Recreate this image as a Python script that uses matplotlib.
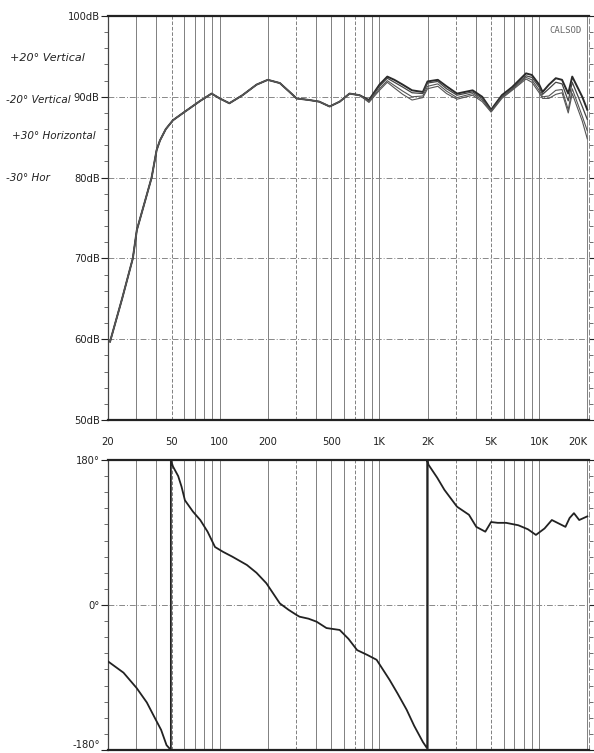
import numpy as np
import matplotlib
matplotlib.use("Agg")
import matplotlib.pyplot as plt

# ---------------- data ----------------
# common low-frequency part of the magnitude response
freq_low = [20.6, 24.5, 28.6, 30.3, 34, 37.5, 40.3, 42.3, 46, 51, 59, 75.6, 89, 100, 115, 139,
            170, 200, 238, 274, 303, 364, 420, 488, 564, 650, 750]
db_low = [59.7, 65.0, 70.0, 73.5, 77.0, 80.0, 83.4, 84.6, 86.0, 87.1, 88.0, 89.5, 90.4, 89.8,
          89.2, 90.2, 91.5, 92.1, 91.7, 90.6, 89.8, 89.6, 89.4, 88.8, 89.4, 90.4, 90.2]

# high-frequency part: four off-axis curves
freq_high = [860, 1000, 1120, 1240, 1400, 1600, 1870, 2000, 2320, 2630, 3060, 3830, 4400, 5000,
             5840, 6770, 8270, 9000, 10000, 10500, 11500, 12700, 13900, 15200, 16100, 18600, 20000]
db_vert_p20 = [89.6, 91.5, 92.5, 92.1, 91.5, 90.8, 90.6, 91.9, 92.1, 91.3, 90.4, 90.8, 90.0, 88.4,
               90.2, 91.2, 92.9, 92.7, 91.5, 90.6, 91.5, 92.3, 92.1, 90.4, 92.5, 90.0, 88.4]
db_vert_m20 = [89.5, 91.3, 92.3, 91.8, 91.2, 90.5, 90.4, 91.7, 91.9, 91.0, 90.2, 90.6, 89.8, 88.3,
               90.0, 91.0, 92.6, 92.4, 91.2, 90.3, 91.0, 91.8, 91.6, 89.5, 91.8, 88.8, 87.2]
db_hor_p30 = [89.4, 91.0, 92.0, 91.4, 90.7, 90.0, 90.1, 91.3, 91.6, 90.7, 89.9, 90.4, 89.6, 88.2,
              89.9, 90.9, 92.4, 92.1, 90.8, 90.0, 90.1, 90.8, 90.9, 88.4, 91.0, 87.6, 85.8]
db_hor_m30 = [89.3, 90.8, 91.8, 91.1, 90.3, 89.6, 89.9, 91.0, 91.3, 90.4, 89.7, 90.2, 89.4, 88.1,
              89.8, 90.8, 92.2, 91.8, 90.5, 89.8, 89.8, 90.3, 90.5, 88.0, 90.4, 87.0, 84.8]
series_labels = ["+20° Vertical", "-20° Vertical", "+30° Horizontal", "-30° Hor"]

# phase response (degrees)
freq_phase = [20, 25, 30.2, 35, 39, 43, 46.5, 49.5, 49.5, 51, 55, 57.7, 60.6, 68, 75.6, 84, 93.5,
              105, 120, 148, 170, 196, 238, 270, 303, 316, 360, 404, 466, 564, 640, 725, 840, 960,
              1158, 1300, 1480, 1650, 1870, 1990, 1990, 2030, 2300, 2550, 3060, 3634, 4040, 4600,
              5000, 5500, 6200, 7400, 8500, 9540, 10800, 12000, 14600, 15500, 16500, 17800, 20000]
phase_deg = [-70, -84, -103, -121, -139, -155, -174, -180, 180, 172, 160, 147, 130, 116, 105.5, 91,
             72, 66, 60, 49.7, 40, 27, 2, -6, -12.4, -14.5, -17, -20.7, -28.6, -31, -42, -56, -62,
             -68, -93, -110, -130, -150, -170, -178, 180, 174, 158, 143, 122, 112, 97, 91, 103, 102,
             102, 99, 94, 87, 95, 105.5, 97, 108, 114, 105.5, 110]

xtick_vals = [20, 50, 100, 200, 500, 1000, 2000, 5000, 10000, 20000]
xtick_labels = ["20", "50", "100", "200", "500", "1K", "2K", "5K", "10K", "20K"]
db_ticks = [50, 60, 70, 80, 90, 100]
db_tick_labels = ["50dB", "60dB", "70dB", "80dB", "90dB", "100dB"]
ph_ticks = [-180, 0, 180]
ph_tick_labels = ["-180°", "0°", "180°"]

# ---------------- figure ----------------
W, H = 594, 753
fig = plt.figure(figsize=(W / 100, H / 100), dpi=100)
fig.patch.set_facecolor("white")

def px_rect(left, top, right, bottom):
    return [left / W, 1 - bottom / H, (right - left) / W, (bottom - top) / H]

ax1 = fig.add_axes(px_rect(108, 16, 589, 420))
ax2 = fig.add_axes(px_rect(108, 460, 589, 750))

grid_freqs = []
for dec in [10, 100, 1000, 10000]:
    for m in range(1, 10):
        f = dec * m
        if 20 <= f <= 20000:
            grid_freqs.append(f)
dashed_freqs = {50, 150, 300, 700, 1500, 3000, 5000, 15000}

for ax in (ax1, ax2):
    ax.set_xscale("log")
    ax.set_xlim(20, 20500)
    for f in grid_freqs:
        if f == 20:
            continue
        ls = (0, (4, 2)) if f in dashed_freqs else "-"
        ax.axvline(f, color="#777777", lw=0.65, ls=ls, zorder=1)
    ax.xaxis.set_minor_locator(matplotlib.ticker.NullLocator())
    for s in ["top", "bottom"]:
        ax.spines[s].set_linewidth(1.6)
        ax.spines[s].set_color("#222222")
    ax.spines["left"].set_color("#444444")
    ax.spines["left"].set_linewidth(0.9)
    ax.spines["right"].set_color("#888888")
    ax.spines["right"].set_linewidth(0.7)
    ax.spines["right"].set_linestyle((0, (5, 3)))

# magnitude
ax1.set_ylim(50, 100)
for y in [60, 70, 80, 90]:
    ax1.axhline(y, color="#888888", lw=0.7, ls=(0, (6, 2, 1, 2)), zorder=1)
freq_all = freq_low + freq_high
series = [db_vert_p20, db_vert_m20, db_hor_p30, db_hor_m30]
styles = [dict(color="#2a2a2a", lw=1.4), dict(color="#444444", lw=0.9),
          dict(color="#555555", lw=0.8), dict(color="#555555", lw=0.8)]
for vals, st, lab in zip(series, styles, series_labels):
    ax1.plot(freq_all, db_low + vals, zorder=3, label=lab, **st)
ax1.set_yticks(db_ticks)
ax1.set_yticklabels(db_tick_labels)
ax1.yaxis.set_minor_locator(matplotlib.ticker.MultipleLocator(2))
ax1.tick_params(axis="y", which="major", length=5, width=0.8, pad=1, labelsize=7.2,
                colors="#222222", direction="out")
ax1.tick_params(axis="y", which="minor", length=3, width=0.6, direction="out", color="#555555")
ax1.tick_params(axis="y", which="both", right=True)
ax1.set_xticks(xtick_vals)
ax1.set_xticklabels(xtick_labels)
ax1.tick_params(axis="x", length=0, pad=12, labelsize=7.2, colors="#222222")
xl = ax1.get_xticklabels()
xl[-1].set_horizontalalignment("right")
xl[-1].set_x(20500)
ax1.text(0.985, 0.975, "CALSOD", transform=ax1.transAxes, ha="right", va="top",
         fontsize=6.5, family="DejaVu Sans Mono", color="#666666", zorder=4)

# phase
ax2.set_ylim(-180, 180)
ax2.axhline(0, color="#888888", lw=0.7, ls=(0, (6, 2, 1, 2)), zorder=1)
ax2.plot(freq_phase, phase_deg, color="#222222", lw=1.3, zorder=3)
ax2.set_yticks(ph_ticks)
ax2.set_yticklabels(ph_tick_labels)
ax2.yaxis.set_minor_locator(matplotlib.ticker.MultipleLocator(20))
ax2.tick_params(axis="y", which="major", length=5, width=0.8, pad=1, labelsize=7.2,
                colors="#222222", direction="out")
ax2.tick_params(axis="y", which="minor", length=3, width=0.6, direction="out", color="#555555")
ax2.tick_params(axis="y", which="both", right=True)
ax2.set_xticks([])
ax2.get_yticklabels()[0].set_verticalalignment("bottom")

# handwritten-style legend notes at left
notes = [("+20° Vertical", 10, 58, 8.0), ("-20° Vertical", 6, 100, 7.5),
         ("+30° Horizontal", 12, 136, 7.5), ("-30° Hor", 6, 178, 7.5)]
for txt, x, y, fs in notes:
    fig.text(x / W, 1 - y / H, txt, fontsize=fs, style="italic", color="#222222",
             ha="left", va="center")

fig.savefig("out.png", dpi=100)
